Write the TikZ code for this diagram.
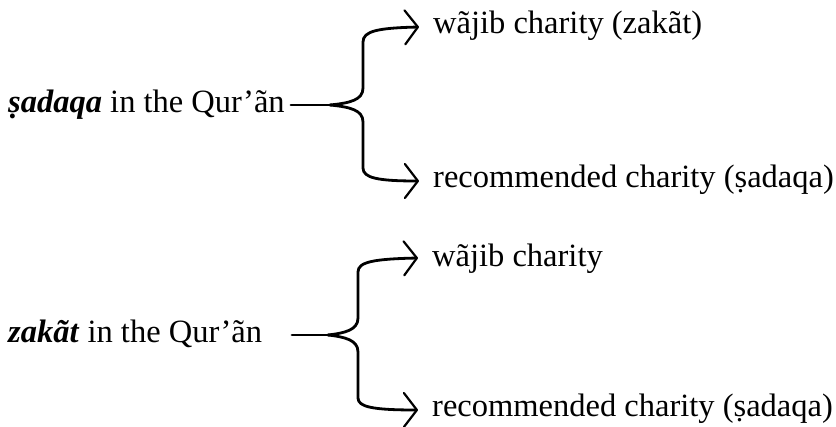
\documentclass[tikz,border=0pt]{standalone}
\usepackage{fontspec}
\setmainfont{Liberation Serif}
\usetikzlibrary{arrows.meta}
\begin{document}
\begin{tikzpicture}[x=1pt,y=-1pt,
  lbl/.style={inner sep=0pt, font=\fontsize{32.5}{38}\selectfont},
  brace/.style={line width=2.8pt, line cap=round, line join=round},
  arr/.style={brace, -{Straight Barb[length=13pt,width=34pt,line width=2.2pt,round]}}]
\useasboundingbox (0,0) rectangle (836,427);
% top group
\node[lbl, anchor=base west] (s1) at (8,113) {\textbf{\textit{\d{s}adaqa}} in the Qur’ãn};
\node[lbl, anchor=base west] (t1) at (433,34) {wãjib charity (zakãt)};
\node[lbl, anchor=base west] (b1) at (433,188) {recommended charity (\d{s}adaqa)};
\coordinate (k1) at (330,105);
\coordinate (e1) at (419,27);
\coordinate (f1) at (419,181);
\draw[brace] ([xshift=6pt]s1.east |- k1) -- (k1);
\draw[arr] (k1) .. controls (350,103) and (363,100) .. (363,88) -- (363,42)
  .. controls (363,31) and (378,28) .. (e1);
\draw[arr] (k1) .. controls (350,107) and (363,110) .. (363,122) -- (363,168)
  .. controls (363,178) and (378,181) .. (f1);
% bottom group
\node[lbl, anchor=base west] (s2) at (8,343) {\textbf{\textit{zakãt}} in the Qur’ãn};
\node[lbl, anchor=base west] (t2) at (432,267) {wãjib charity};
\node[lbl, anchor=base west] (b2) at (432,417) {recommended charity (\d{s}adaqa)};
\coordinate (k2) at (328,335);
\coordinate (e2) at (418,258);
\coordinate (f2) at (418,410);
\draw[brace] (292,335) -- (k2);
\draw[arr] (k2) .. controls (345,333) and (358,330) .. (358,318) -- (358,272)
  .. controls (358,262) and (373,259) .. (e2);
\draw[arr] (k2) .. controls (345,337) and (358,340) .. (358,352) -- (358,398)
  .. controls (358,407) and (373,410) .. (f2);
\end{tikzpicture}
\end{document}
